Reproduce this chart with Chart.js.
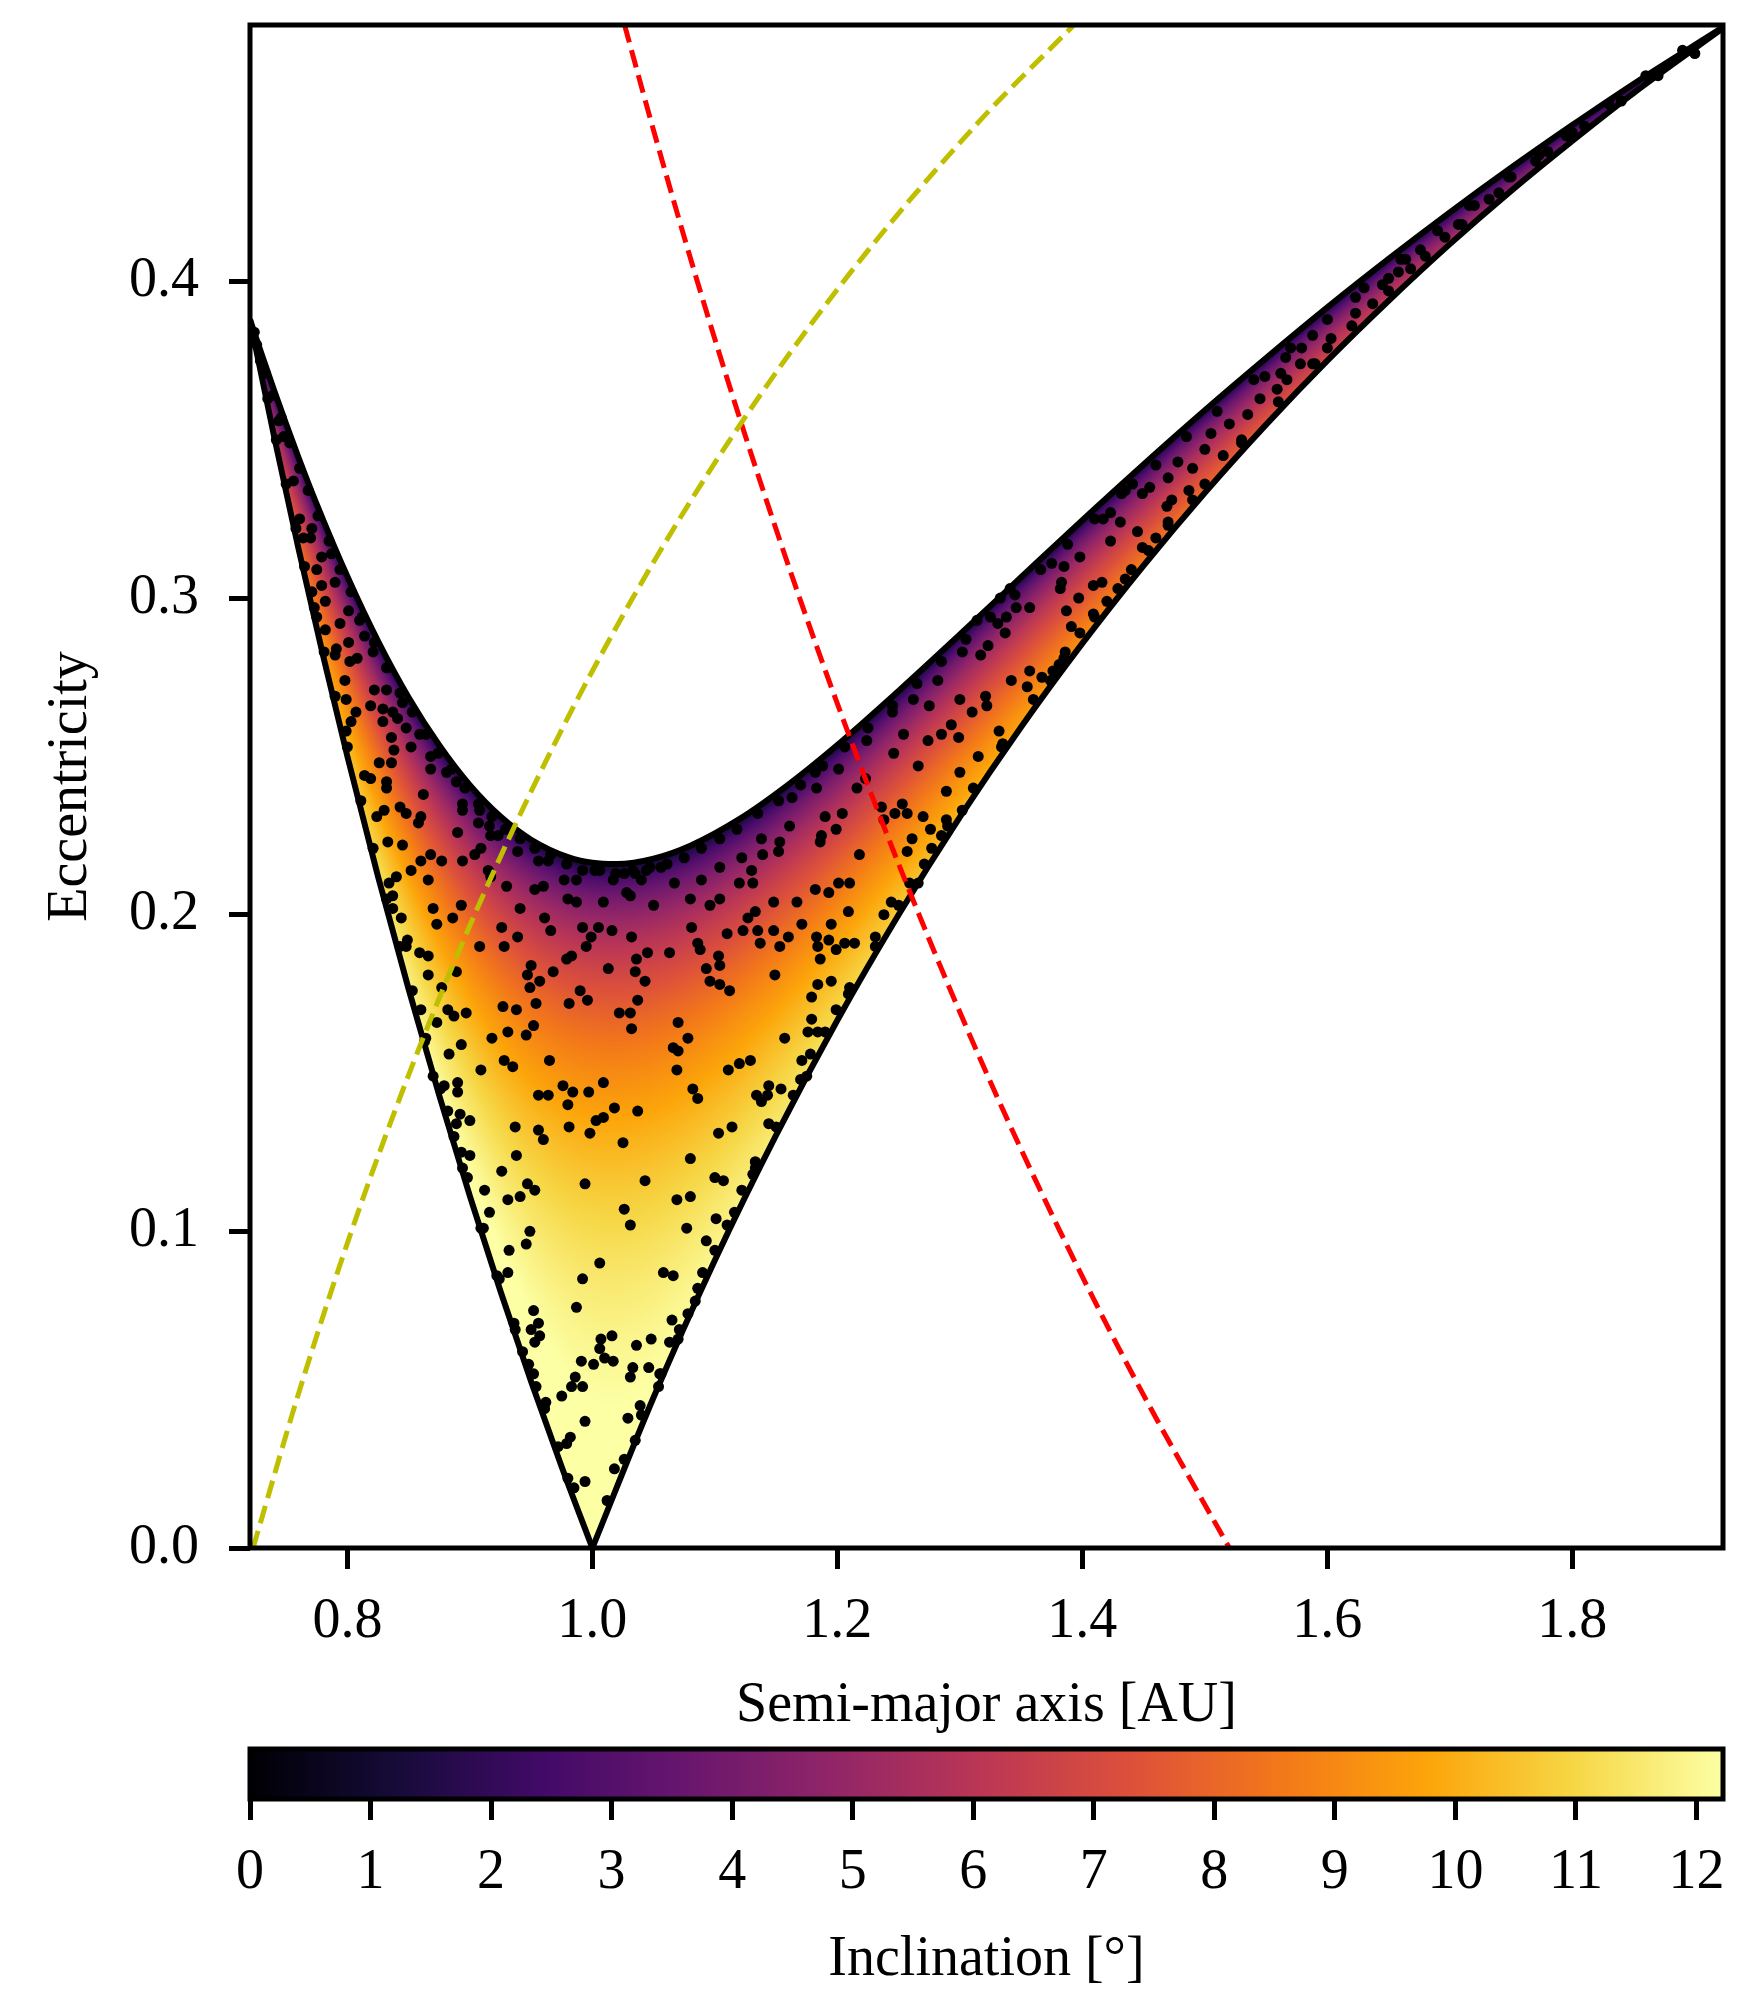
<!DOCTYPE html>
<html>
<head>
<meta charset="utf-8">
<script src="https://cdn.jsdelivr.net/npm/chart.js@4.4.1/dist/chart.umd.min.js"></script>
<style>
  html, body { margin: 0; padding: 0; background: #fff; }
  #wrap { position: relative; width: 1750px; height: 2000px; }
  #main { position: absolute; left: 0; top: 0; width: 1750px; height: 1740px; }
  #cbar { position: absolute; left: 0; top: 1740px; width: 1750px; height: 260px; }
</style>
</head>
<body>
<div id="wrap">
  <canvas id="main" width="1750" height="1740"></canvas>
  <canvas id="cbar" width="1750" height="260"></canvas>
</div>
<script>
// axes
var xRange = [0.7205, 1.923];
var yRange = [0, 0.481];
var inclRange = [0, 12.22];
var xTicks = [0.8, 1.0, 1.2, 1.4, 1.6, 1.8];
var yTicks = [0.0, 0.1, 0.2, 0.3, 0.4];
var inclTicks = [0, 1, 2, 3, 4, 5, 6, 7, 8, 9, 10, 11, 12];

// Tisserand limit of the shaded region (edge minimum e ~ 0.216 near a ~ 1.02)
var encounterT = 2.9526;

// boundary curves [a, e]
var upperEdge = [[0.7205,0.388],[0.73,0.377],[0.74,0.3658],[0.75,0.355],[0.76,0.3445],[0.775,0.3296],[0.80,0.3068],[0.825,0.2864],[0.85,0.2686],[0.875,0.2535],[0.90,0.2409],[0.925,0.2310],[0.95,0.2237],[0.98,0.2182],[1.00,0.2164],[1.02,0.2160],[1.05,0.2177],[1.08,0.2218],[1.12,0.2302],[1.16,0.2411],[1.20,0.2536],[1.25,0.2707],[1.30,0.2885],[1.35,0.3066],[1.40,0.3246],[1.45,0.3422],[1.50,0.3593],[1.55,0.3758],[1.60,0.3918],[1.65,0.4071],[1.70,0.4218],[1.75,0.4359],[1.80,0.4494],[1.85,0.4624],[1.923,0.4803]];
var aphelionEdge = [[0.7205,0.3879],[0.74,0.3514],[0.76,0.3158],[0.78,0.2821],[0.80,0.25],[0.825,0.2121],[0.85,0.1765],[0.875,0.1429],[0.90,0.1111],[0.925,0.0811],[0.95,0.0526],[0.975,0.0256],[1.0,0]];
var perihelionEdge = [[1.0,0],[1.05,0.0476],[1.1,0.0909],[1.15,0.1304],[1.2,0.1667],[1.25,0.2],[1.3,0.2308],[1.35,0.2593],[1.4,0.2857],[1.45,0.3103],[1.5,0.3333],[1.55,0.3548],[1.6,0.375],[1.65,0.3939],[1.7,0.4118],[1.75,0.4286],[1.8,0.4444],[1.85,0.4595],[1.923,0.48]];

// dashed curves
var marsCurve = [[1.0263,0.481],[1.0483,0.45],[1.0857,0.40],[1.1259,0.35],[1.1692,0.30],[1.216,0.25],[1.2667,0.20],[1.3217,0.15],[1.3818,0.10],[1.4476,0.05],[1.52,0]];
var venusCurve = [[0.723,0],[0.7611,0.05],[0.8033,0.10],[0.8506,0.15],[0.9038,0.20],[0.964,0.25],[1.0329,0.30],[1.1123,0.35],[1.205,0.40],[1.3145,0.45],[1.3931,0.481]];

// objects [a, e]
var innerOrbits = [
[0.799,0.268],[0.822,0.271],[0.832,0.271],[0.819,0.266],[0.829,0.265],[0.837,0.264],[0.845,0.267],[0.807,0.264],[0.803,0.261],[0.799,0.258],[0.829,0.261],[0.841,0.262],[0.848,0.259],[0.836,0.256],[0.859,0.257],[0.838,0.252],[0.852,0.253],[0.826,0.248],[0.836,0.248],[0.868,0.250],[0.868,0.246],[0.814,0.244],[0.819,0.243],[0.832,0.242],[0.832,0.240],[0.862,0.238],[0.881,0.245],[0.889,0.242],[0.843,0.234],[0.848,0.232],[0.830,0.233],[0.860,0.231],[0.858,0.229],[0.824,0.231],[0.833,0.223],[0.845,0.222],[0.890,0.226],[0.894,0.235],[0.894,0.233],[0.908,0.233],[0.907,0.229],[0.916,0.228],[0.917,0.225],[0.923,0.225],[0.860,0.217],[0.868,0.219],[0.877,0.217],[0.852,0.214],[0.840,0.212],[0.866,0.211],[0.894,0.217],[0.904,0.219],[0.909,0.221],[0.939,0.220],[0.915,0.214],[0.917,0.212],[0.930,0.209],[0.953,0.208],[0.960,0.209],[0.956,0.217],[0.964,0.217],[0.977,0.211],[0.987,0.211],[1.002,0.214],[1.017,0.211],[1.026,0.213],[1.035,0.213],[1.040,0.211],[1.044,0.214],[1.056,0.215],[1.067,0.210],[1.080,0.205],[1.089,0.211],[1.104,0.215],[1.104,0.205],[1.096,0.203],[1.028,0.207],[1.031,0.206],[0.980,0.205],[0.987,0.204],[1.009,0.204],[1.050,0.203],[0.941,0.202],[0.961,0.199],[0.966,0.195],[0.992,0.196],[0.999,0.193],[1.005,0.196],[1.016,0.195],[1.032,0.193],[1.081,0.196],[1.086,0.191],[1.088,0.189],[1.103,0.187],[1.110,0.194],[1.036,0.186],[1.045,0.188],[1.063,0.188],[0.995,0.190],[0.983,0.187],[0.979,0.186],[0.950,0.184],[0.947,0.181],[0.957,0.179],[0.968,0.182],[1.013,0.183],[1.035,0.182],[1.043,0.179],[1.093,0.183],[1.104,0.184],[1.096,0.179],[1.104,0.178],[1.112,0.176],[0.990,0.176],[0.949,0.177],[0.928,0.190],[0.908,0.190],[0.926,0.196],[0.939,0.193],[0.886,0.199],[0.893,0.203],[0.873,0.197],[0.870,0.202],[0.837,0.202],[0.844,0.199],[0.849,0.192],[0.848,0.190],[0.859,0.188],[0.866,0.187],[0.866,0.181],[0.889,0.182],[0.877,0.177],[0.927,0.171],[0.938,0.170],[0.954,0.172],[0.981,0.172],[0.996,0.173],[1.037,0.173],[1.022,0.169],[1.031,0.169],[0.897,0.169],[0.882,0.170],[0.860,0.170],[0.834,0.210],[0.837,0.206],
[1.224,0.255],[1.254,0.257],[1.274,0.255],[1.285,0.257],[1.293,0.260],[1.299,0.256],[1.332,0.258],[1.334,0.253],[1.315,0.250],[1.246,0.251],[1.266,0.247],[1.300,0.245],[1.289,0.239],[1.223,0.243],[1.216,0.240],[1.201,0.246],[1.183,0.240],[1.182,0.245],[1.163,0.237],[1.161,0.228],[1.138,0.224],[1.153,0.223],[1.152,0.220],[1.139,0.219],[1.122,0.218],[1.130,0.214],[1.120,0.210],[1.131,0.210],[1.190,0.231],[1.204,0.232],[1.199,0.227],[1.187,0.225],[1.186,0.223],[1.218,0.219],[1.236,0.234],[1.238,0.230],[1.247,0.232],[1.253,0.235],[1.257,0.232],[1.270,0.231],[1.276,0.227],[1.261,0.224],[1.257,0.220],[1.277,0.221],[1.289,0.230],[1.285,0.225],[1.302,0.233],[1.182,0.208],[1.193,0.207],[1.201,0.210],[1.210,0.210],[1.148,0.204],[1.167,0.204],[1.133,0.201],[1.127,0.199],[1.123,0.195],[1.135,0.195],[1.137,0.191],[1.148,0.195],[1.153,0.190],[1.160,0.193],[1.171,0.197],[1.183,0.193],[1.184,0.190],[1.193,0.192],[1.195,0.197],[1.199,0.189],[1.206,0.191],[1.214,0.191],[1.209,0.201],[1.238,0.200],[1.244,0.204],[1.231,0.193],[1.259,0.210],[1.266,0.210],[1.186,0.186],[1.149,0.181],[1.184,0.178],[1.195,0.179],[1.179,0.174],[1.209,0.175],[1.179,0.167],[1.199,0.170],[1.157,0.161],[1.176,0.163],[1.184,0.163],
[0.887,0.168],[0.873,0.166],[0.931,0.163],[0.952,0.165],[0.946,0.162],[0.918,0.161],[0.893,0.159],[0.883,0.156],[0.928,0.154],[0.935,0.152],[0.965,0.154],[0.909,0.151],[1.032,0.164],[1.070,0.166],[1.078,0.161],[1.066,0.158],[1.070,0.157],[1.069,0.151],[1.129,0.154],[1.120,0.153],[1.111,0.151],[0.976,0.146],[0.984,0.144],[0.956,0.143],[0.964,0.143],[0.980,0.140],[0.997,0.144],[1.009,0.147],[1.018,0.139],[1.003,0.135],[1.009,0.136],[0.981,0.133],[0.998,0.131],[0.956,0.132],[0.960,0.129],[1.037,0.138],[1.025,0.128],[1.082,0.145],[1.086,0.142],[1.144,0.146],[1.134,0.143],[1.138,0.141],[1.154,0.145],[1.114,0.133],[1.103,0.131],[1.144,0.134],[0.937,0.133],[0.938,0.124],[0.926,0.119],[0.893,0.125],[0.900,0.124],[0.882,0.138],[0.892,0.137],[0.889,0.134],[0.900,0.135],[0.879,0.146],[0.890,0.147],[0.890,0.144],[0.863,0.160],[0.870,0.149],[0.894,0.120],[0.947,0.115],[0.953,0.113],[0.941,0.111],[0.931,0.110],[0.912,0.113],[0.916,0.106],[0.994,0.115],[1.043,0.116],[1.080,0.123],[1.100,0.117],[1.107,0.116],[1.122,0.113],[1.069,0.110],[1.080,0.111],[1.026,0.107],[1.031,0.102],[1.077,0.101],[1.101,0.104],[1.110,0.102],[1.093,0.097],[0.949,0.100],[0.946,0.096],[0.932,0.094],[0.909,0.101],[0.931,0.087],[0.922,0.086],[1.006,0.090],[0.992,0.085],[1.058,0.087],[1.066,0.086],[1.090,0.087],[1.133,0.122],
[0.987,0.076],[0.952,0.075],[0.956,0.071],[0.950,0.069],[0.957,0.067],[0.953,0.065],[0.937,0.069],[1.007,0.066],[1.016,0.067],[1.006,0.063],[1.010,0.060],[1.001,0.058],[1.017,0.059],[0.991,0.059],[1.036,0.064],[1.048,0.066],[1.065,0.072],[1.063,0.065],[1.033,0.057],[1.031,0.054],[1.046,0.057],[0.986,0.054],[0.983,0.051],[0.992,0.051],[0.975,0.048],[0.962,0.046],[1.039,0.045],[1.029,0.041],[0.994,0.040],[0.982,0.035],[0.979,0.033],[1.035,0.034],[1.018,0.025],[0.980,0.022],[0.994,0.021],[1.084,0.078],[1.078,0.074],[1.056,0.055],[1.054,0.051],[0.952,0.055],[0.954,0.051],[1.070,0.066],[0.943,0.062],
[1.171,0.154],[1.178,0.156],[1.175,0.149],[1.143,0.143],[1.164,0.143],[1.133,0.120],
[1.441,0.336],[1.449,0.333],[1.432,0.333],[1.423,0.327],[1.417,0.325],[1.431,0.324],[1.445,0.321],[1.423,0.318],[1.398,0.313],[1.375,0.311],[1.385,0.310],[1.383,0.305],[1.382,0.303],[1.387,0.296],[1.397,0.300],[1.409,0.304],[1.416,0.305],[1.420,0.299],[1.409,0.295],[1.391,0.291],[1.398,0.289],[1.386,0.283],[1.429,0.303],[1.435,0.306],[1.449,0.316],[1.454,0.315],[1.460,0.319],[1.470,0.324],[1.469,0.329],[1.473,0.331],[1.487,0.334],[1.490,0.331],[1.357,0.297],[1.346,0.297],[1.338,0.294],[1.331,0.292],[1.337,0.289],[1.323,0.285],[1.317,0.282],[1.302,0.283],[1.357,0.277],[1.367,0.275],[1.355,0.272],[1.342,0.274],[1.376,0.277],[1.381,0.279],[1.321,0.269],[1.322,0.266],[1.300,0.268],[1.310,0.264],[1.374,0.274],[1.341,0.303],[1.333,0.300],[1.314,0.293],
[1.455,0.335],[1.470,0.338],[1.478,0.343],[1.490,0.341],[1.500,0.347],[1.505,0.352],[1.515,0.345],[1.520,0.355],[1.530,0.350],[1.535,0.358],[1.245,0.264],[1.262,0.268],[1.275,0.266],[1.282,0.274],
[1.732,0.426],[1.716,0.424],[1.707,0.418],[1.696,0.414],[1.676,0.410],[1.664,0.407],[1.668,0.404],[1.658,0.403],[1.650,0.401],[1.645,0.399],[1.637,0.393],[1.623,0.395],[1.623,0.390],[1.603,0.382],[1.588,0.383],[1.600,0.379],[1.579,0.379],[1.578,0.374],[1.566,0.376],[1.588,0.374],[1.562,0.371],[1.549,0.370],[1.567,0.369],[1.559,0.366],[1.545,0.363],[1.795,0.446],[1.773,0.440],[1.748,0.433],
[0.744,0.356],[0.748,0.351],[0.756,0.337],[0.761,0.325],[0.771,0.322],[0.770,0.319],[0.764,0.319],[0.779,0.313],[0.775,0.309],[0.787,0.314],[0.790,0.305],[0.779,0.304],[0.782,0.299],[0.801,0.296],[0.794,0.292],[0.810,0.293],[0.782,0.290],[0.791,0.284],[0.790,0.282],[0.802,0.280],[0.808,0.281],[0.801,0.286],[0.821,0.283],[0.798,0.274],[0.832,0.278],[0.814,0.288],[0.775,0.294],[0.771,0.302]
];
var edgeOrbits = [
[0.726,0.380],[0.733,0.371],[0.739,0.364],[0.746,0.357],[0.753,0.349],[0.761,0.341],[0.768,0.334],[0.776,0.326],[0.785,0.318],[0.794,0.309],[0.803,0.302],[0.812,0.294],[0.822,0.286],[0.833,0.278],[0.843,0.270],[0.853,0.264],[0.864,0.257],[0.874,0.251],[0.885,0.246],[0.896,0.240],[0.907,0.235],[0.918,0.231],[0.929,0.227],[0.941,0.224],[0.953,0.221],[0.966,0.219],[0.979,0.216],[0.992,0.214],[1.006,0.214],[1.019,0.213],[1.033,0.214],[1.047,0.215],[1.061,0.216],[1.075,0.218],[1.089,0.221],[1.104,0.224],[1.118,0.227],[1.135,0.232],[1.152,0.236],[1.170,0.241],[1.188,0.247],[1.206,0.253],[1.225,0.259],[1.245,0.266],[1.265,0.273],[1.285,0.280],[1.305,0.287],[1.325,0.294],[1.345,0.301],[1.366,0.309],[1.388,0.317],[1.410,0.325],[1.435,0.334],[1.460,0.342],[1.485,0.351],[1.510,0.359],[1.540,0.369],[1.570,0.379],[1.600,0.388],[1.630,0.398],[1.660,0.407],[1.690,0.416],[1.720,0.424],[1.750,0.433],[1.780,0.441],[1.810,0.449],[1.840,0.457],[1.870,0.465],[1.900,0.472],
[0.724,0.384],[0.729,0.375],[0.735,0.363],[0.742,0.350],[0.750,0.336],[0.758,0.322],[0.765,0.310],[0.773,0.297],[0.781,0.283],[0.790,0.269],[0.800,0.253],[0.811,0.236],[0.821,0.221],[0.832,0.205],[0.843,0.190],[0.853,0.176],[0.864,0.161],[0.876,0.145],[0.887,0.130],[0.898,0.117],[0.911,0.101],[0.924,0.085],[0.936,0.071],[0.948,0.058],[0.961,0.044],[0.972,0.032],[0.985,0.019],
[1.012,0.015],[1.026,0.028],[1.040,0.042],[1.055,0.055],[1.071,0.069],[1.086,0.082],[1.100,0.094],[1.116,0.106],[1.131,0.118],[1.150,0.133],[1.170,0.148],[1.190,0.163],[1.210,0.177],[1.231,0.190],[1.250,0.203],[1.271,0.216],[1.290,0.228],[1.311,0.240],[1.335,0.254],[1.360,0.268],[1.385,0.281],[1.410,0.294],[1.440,0.309],[1.470,0.323],[1.500,0.336],[1.530,0.349],[1.560,0.362],[1.590,0.374],[1.620,0.386],[1.650,0.397],[1.680,0.408],[1.710,0.418],[1.740,0.428],[1.770,0.438],[1.800,0.447],[1.830,0.456],[1.860,0.465],[1.890,0.473]
];

// inferno colour map
var infernoStops = ['#000004', '#160b39', '#420a68', '#6a176e', '#932667', '#bc3754', '#dd513a', '#f37819', '#fca50a', '#f6d746', '#fcffa4'];

var serif = "'Liberation Serif', 'Times New Roman', Times, serif";
var bigFont = { family: serif, size: 56 };

var stopRGB = infernoStops.map(function (h) {
	return [parseInt(h.substr(1, 2), 16), parseInt(h.substr(3, 2), 16), parseInt(h.substr(5, 2), 16)];
});
function inferno(t) {
	t = Math.max(0, Math.min(1, t)) * (stopRGB.length - 1);
	var i = Math.min(Math.floor(t), stopRGB.length - 2), f = t - i;
	var c0 = stopRGB[i], c1 = stopRGB[i + 1];
	return [c0[0] + (c1[0] - c0[0]) * f, c0[1] + (c1[1] - c0[1]) * f, c0[2] + (c1[2] - c0[2]) * f];
}
function toXY(arr) {
	return arr.map(function (p) { return { x: p[0], y: p[1] }; });
}

// shaded region: max inclination for each (a, e)
var fieldCanvas = null;
var fieldPlugin = {
	id: 'inclinationField',
	beforeDatasetsDraw: function (chart) {
		var ctx = chart.ctx, ca = chart.chartArea, sx = chart.scales.x, sy = chart.scales.y;
		var w = Math.round(ca.right - ca.left), h = Math.round(ca.bottom - ca.top);
		if (!fieldCanvas) {
			fieldCanvas = document.createElement('canvas');
			fieldCanvas.width = w; fieldCanvas.height = h;
			var fctx = fieldCanvas.getContext('2d');
			var img = fctx.createImageData(w, h), d = img.data;
			for (var j = 0; j < h; j++) {
				var e = sy.getValueForPixel(ca.top + j + 0.5);
				var ee = 1 - e * e;
				for (var i = 0; i < w; i++) {
					var a = sx.getValueForPixel(ca.left + i + 0.5);
					if (a * (1 - e) > 1 || a * (1 + e) < 1) continue;
					var c = (encounterT - 1 / a) / (2 * Math.sqrt(a * ee));
					if (c > 1) continue;
					var inc = Math.acos(Math.max(-1, c)) * 180 / Math.PI;
					var col = inferno(inc / inclRange[1]);
					var k = (j * w + i) * 4;
					d[k] = col[0]; d[k + 1] = col[1]; d[k + 2] = col[2]; d[k + 3] = 255;
				}
			}
			fctx.putImageData(img, 0, 0);
		}
		ctx.drawImage(fieldCanvas, ca.left, ca.top);
	}
};

var framePlugin = {
	id: 'frame',
	afterDatasetsDraw: function (chart) {
		var ctx = chart.ctx, ca = chart.chartArea;
		ctx.save();
		ctx.lineWidth = 5;
		ctx.strokeStyle = '#000';
		ctx.strokeRect(ca.left, ca.top, ca.right - ca.left, ca.bottom - ca.top);
		ctx.restore();
	}
};

function tickGrid() {
	return { display: true, drawOnChartArea: false, drawTicks: true, tickLength: 21, tickWidth: 5, tickColor: '#000' };
}
function noPad(s) {
	s.paddingTop = 0; s.paddingBottom = 0; s.paddingLeft = 0; s.paddingRight = 0;
}

// main plot
var ctx = document.getElementById('main');
var mainChart = new Chart(ctx, {
	type : 'scatter',
	data : {
		datasets : [ {
			label : 'Venus q',
			data : toXY(venusCurve),
			showLine : true,
			borderColor : '#bfbf00',
			borderWidth : 5,
			borderDash : [ 18, 8 ],
			pointRadius : 0,
			cubicInterpolationMode : 'monotone',
			order : 0
		}, {
			label : 'Mars Q',
			data : toXY(marsCurve),
			showLine : true,
			borderColor : '#ff0000',
			borderWidth : 5,
			borderDash : [ 18, 8 ],
			pointRadius : 0,
			cubicInterpolationMode : 'monotone',
			order : 0
		}, {
			label : 'upper',
			data : toXY(upperEdge),
			showLine : true,
			borderColor : '#000',
			borderWidth : 6,
			pointRadius : 0,
			cubicInterpolationMode : 'monotone',
			order : 1
		}, {
			label : 'Q = 1',
			data : toXY(aphelionEdge),
			showLine : true,
			borderColor : '#000',
			borderWidth : 6,
			pointRadius : 0,
			cubicInterpolationMode : 'monotone',
			order : 1
		}, {
			label : 'q = 1',
			data : toXY(perihelionEdge),
			showLine : true,
			borderColor : '#000',
			borderWidth : 6,
			pointRadius : 0,
			cubicInterpolationMode : 'monotone',
			order : 1
		}, {
			label : 'objects',
			data : toXY(innerOrbits.concat(edgeOrbits)),
			pointRadius : 5.5,
			backgroundColor : '#000',
			borderWidth : 0,
			order : 2
		} ]
	},
	options : {
		responsive : false,
		animation : false,
		devicePixelRatio : 1,
		events : [],
		layout : { autoPadding : false, padding : { left : 0, right : 27, top : 25, bottom : 0 } },
		plugins : { legend : { display : false }, tooltip : { enabled : false } },
		scales : {
			x : {
				type : 'linear',
				min : xRange[0],
				max : xRange[1],
				afterBuildTicks : function (s) { s.ticks = xTicks.map(function (v) { return { value : v }; }); },
				afterFit : function (s) { s.height = 192; noPad(s); },
				grid : tickGrid(),
				border : { display : false },
				ticks : { font : bigFont, color : '#000', padding : 20, maxRotation : 0, autoSkip : false,
					callback : function (v) { return v.toFixed(1); } },
				title : { display : true, text : 'Semi-major axis [AU]', font : bigFont, color : '#000', padding : { top : 0, bottom : 0 } }
			},
			y : {
				type : 'linear',
				min : yRange[0],
				max : yRange[1],
				afterBuildTicks : function (s) { s.ticks = yTicks.map(function (v) { return { value : v }; }); },
				afterFit : function (s) { s.width = 250; noPad(s); },
				grid : tickGrid(),
				border : { display : false },
				ticks : { font : bigFont, color : '#000', padding : 30, autoSkip : false,
					callback : function (v) { return v.toFixed(1); } },
				title : { display : true, text : 'Eccentricity', font : bigFont, color : '#000', padding : { top : 38, bottom : 0 } }
			}
		}
	},
	plugins : [ fieldPlugin, framePlugin ]
});

// colour bar
var colorbarPlugin = {
	id: 'colorbar',
	beforeDatasetsDraw: function (chart) {
		var c = chart.ctx, ca = chart.chartArea;
		var g = c.createLinearGradient(ca.left, 0, ca.right, 0);
		infernoStops.forEach(function (h, i) { g.addColorStop(i / (infernoStops.length - 1), h); });
		c.save();
		c.fillStyle = g;
		c.fillRect(ca.left, ca.top, ca.right - ca.left, ca.bottom - ca.top);
		c.lineWidth = 5;
		c.strokeStyle = '#000';
		c.strokeRect(ca.left, ca.top, ca.right - ca.left, ca.bottom - ca.top);
		c.restore();
	}
};

var ctx2 = document.getElementById('cbar');
var barChart = new Chart(ctx2, {
	type : 'scatter',
	data : { datasets : [] },
	options : {
		responsive : false,
		animation : false,
		devicePixelRatio : 1,
		events : [],
		layout : { autoPadding : false, padding : { left : 250, right : 27, top : 9, bottom : 0 } },
		plugins : { legend : { display : false }, tooltip : { enabled : false } },
		scales : {
			x : {
				type : 'linear',
				min : inclRange[0],
				max : inclRange[1],
				afterBuildTicks : function (s) { s.ticks = inclTicks.map(function (v) { return { value : v }; }); },
				afterFit : function (s) { s.height = 201; noPad(s); },
				grid : tickGrid(),
				border : { display : false },
				ticks : { font : bigFont, color : '#000', padding : 20, maxRotation : 0, autoSkip : false,
					callback : function (v) { return String(v); } },
				title : { display : true, text : 'Inclination [°]', font : bigFont, color : '#000', padding : { top : 0, bottom : 6 } }
			},
			y : { display : false, min : 0, max : 1 }
		}
	},
	plugins : [ colorbarPlugin ]
});
</script>
</body>
</html>
